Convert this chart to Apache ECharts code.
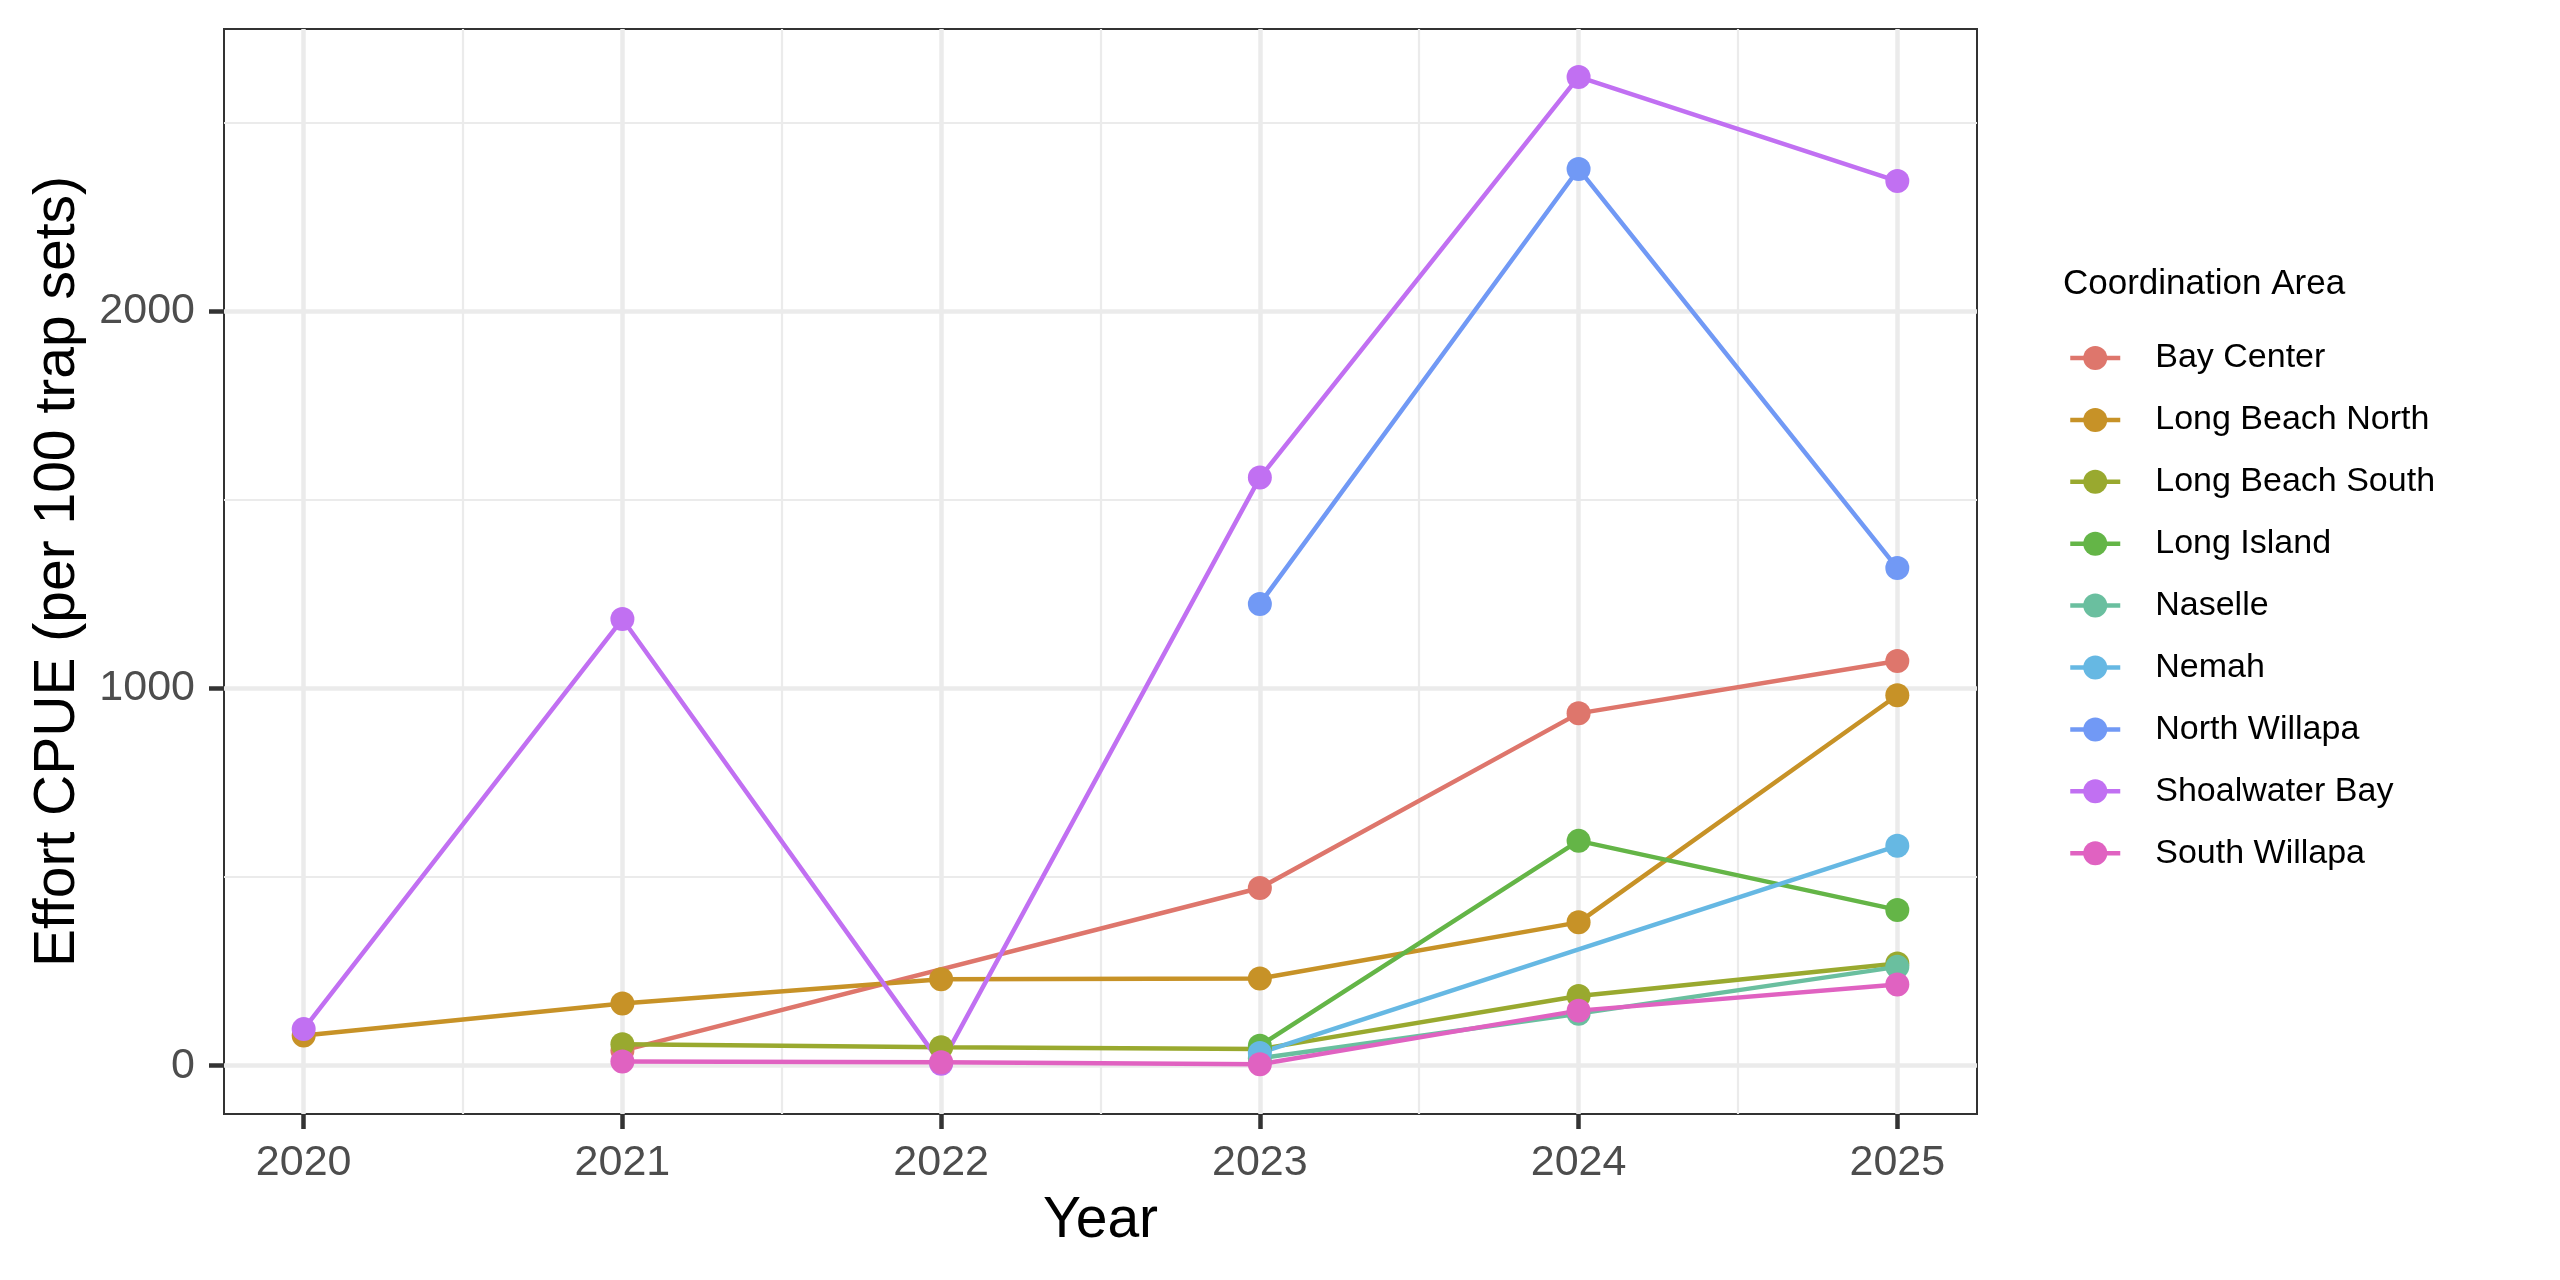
<!DOCTYPE html>
<html>
<head>
<meta charset="utf-8">
<script src="https://cdn.jsdelivr.net/npm/echarts@6/dist/echarts.min.js"></script>
<style>
html,body{margin:0;padding:0;background:#fff;}
#chart{width:2560px;height:1280px;}
</style>
</head>
<body>
<div id="chart"></div>
<script>
const years = [2020, 2021, 2022, 2023, 2024, 2025];
const areas = ["Bay Center", "Long Beach North", "Long Beach South", "Long Island", "Naselle", "Nemah", "North Willapa", "Shoalwater Bay", "South Willapa"];
const colors = ["#DE766C", "#C79227", "#99A92F", "#64B547", "#6ABF9F", "#66B8E3", "#7199F5", "#C170F2", "#E062C1"];

const bayCenter      = [null,   40, null,  471,  934, 1073];
const longBeachNorth = [  80,  165,  229,  231,  380,  982];
const longBeachSouth = [null,   57,   49,   44,  185,  271];
const longIsland     = [null, null, null,   53,  596,  413];
const naselle        = [null, null, null,   20,  138,  262];
const nemah          = [null, null, null,   34, null,  583];
const northWillapa   = [null, null, null, 1224, 2377, 1319];
const shoalwaterBay  = [  97, 1184,    5, 1559, 2621, 2345];
const southWillapa   = [null,   11,    9,    4,  146,  215];

const seriesValues = [bayCenter, longBeachNorth, longBeachSouth, longIsland, naselle, nemah, northWillapa, shoalwaterBay, southWillapa];

const xMajor = [2020, 2021, 2022, 2023, 2024, 2025];
const xMinor = [2020.5, 2021.5, 2022.5, 2023.5, 2024.5];
const yMajor = [0, 1000, 2000];
const yMinor = [500, 1500, 2500];

const FONT = "Liberation Sans";

function pairs(vals) {
  const out = [];
  vals.forEach((v, i) => { if (v !== null) out.push([years[i], v]); });
  return out;
}

const lineSeries = areas.map((name, i) => ({
  name: name,
  type: 'line',
  data: pairs(seriesValues[i]),
  symbol: 'circle',
  showSymbol: false,
  symbolSize: 24,
  lineStyle: { width: 4.5, color: colors[i] },
  itemStyle: { color: colors[i] },
  emphasis: { disabled: true },
  animation: false,
  z: 2
}));
const pointSeries = areas.map((name, i) => ({
  name: name,
  type: 'scatter',
  data: pairs(seriesValues[i]),
  symbol: 'circle',
  symbolSize: 24,
  itemStyle: { color: colors[i], opacity: 1 },
  emphasis: { disabled: true },
  animation: false,
  z: 3
}));

const chart = echarts.init(document.getElementById('chart'), null, { renderer: 'canvas' });
chart.setOption({
  backgroundColor: '#ffffff',
  animation: false,
  textStyle: { fontFamily: FONT },
  title: {
    text: 'Coordination Area',
    left: 2063, top: 267, padding: 0,
    textStyle: { fontFamily: FONT, fontSize: 35, fontWeight: 'normal', color: '#000000' }
  },
  legend: {
    orient: 'vertical',
    left: 2068, top: 341, padding: 0,
    itemWidth: 50, itemHeight: 30, itemGap: 27.9,
    selectedMode: false,
    data: areas,
    lineStyle: { width: 4.5 },
    textStyle: { fontFamily: FONT, fontSize: 34, color: '#000000', padding: [0, 0, 0, 30] }
  },
  grid: {
    left: 224, top: 29, width: 1753, height: 1085,
    show: true, borderColor: '#333333', borderWidth: 2, backgroundColor: 'transparent'
  },
  xAxis: [
    {
      type: 'value', min: 2019.75, max: 2025.25, position: 'bottom',
      name: 'Year', nameLocation: 'middle', nameGap: 79,
      nameTextStyle: { fontFamily: FONT, fontSize: 57, color: '#000000' },
      axisLine: { show: false, onZero: false },
      axisTick: { show: true, inside: false, customValues: xMajor, length: 15, lineStyle: { color: '#333333', width: 4.5 } },
      axisLabel: { customValues: xMajor, formatter: v => String(v), fontFamily: FONT, fontSize: 43, color: '#4D4D4D', margin: 28 },
      splitLine: { show: true, lineStyle: { color: '#EBEBEB', width: 4.5 } }
    },
    {
      type: 'value', min: 2019.75, max: 2025.25, position: 'top',
      axisLine: { show: false, onZero: false },
      axisTick: { show: false, customValues: xMinor },
      axisLabel: { show: false, customValues: xMinor },
      splitLine: { show: true, lineStyle: { color: '#EBEBEB', width: 2.2 } }
    }
  ],
  yAxis: [
    {
      type: 'value', min: -128, max: 2748, position: 'left',
      name: 'Effort CPUE (per 100 trap sets)', nameLocation: 'middle', nameGap: 137,
      nameTextStyle: { fontFamily: FONT, fontSize: 57, color: '#000000' },
      axisLine: { show: false, onZero: false },
      axisTick: { show: true, inside: false, customValues: yMajor, length: 15, lineStyle: { color: '#333333', width: 4.5 } },
      axisLabel: { customValues: yMajor, formatter: v => String(v), fontFamily: FONT, fontSize: 43, color: '#4D4D4D', margin: 29 },
      splitLine: { show: true, lineStyle: { color: '#EBEBEB', width: 4.5 } }
    },
    {
      type: 'value', min: -128, max: 2748, position: 'right',
      axisLine: { show: false, onZero: false },
      axisTick: { show: false, customValues: yMinor },
      axisLabel: { show: false, customValues: yMinor },
      splitLine: { show: true, lineStyle: { color: '#EBEBEB', width: 2.2 } }
    }
  ],
  series: lineSeries.concat(pointSeries)
});
</script>
</body>
</html>
